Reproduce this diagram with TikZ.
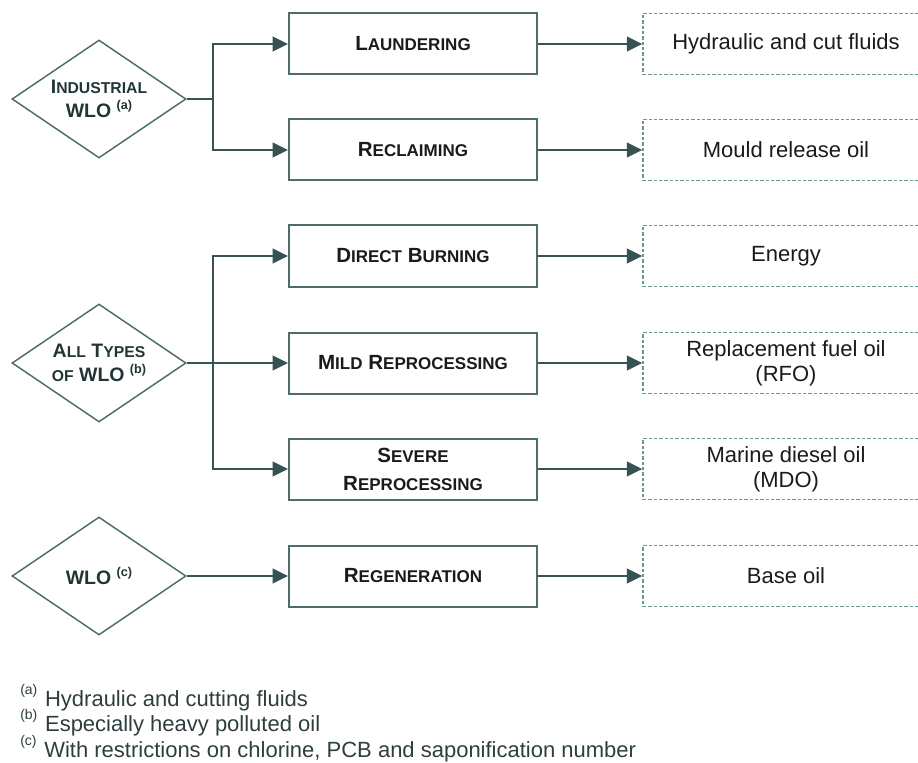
\documentclass[tikz,border=0pt]{standalone}
\usepackage{fontspec}
\setmainfont{Liberation Sans}
\usetikzlibrary{arrows.meta,shapes.geometric}
\definecolor{flowline}{HTML}{375252}
\definecolor{boxline}{HTML}{4E6C6C}
\definecolor{dashline}{HTML}{6A9696}
\definecolor{dtext}{HTML}{223535}
\definecolor{btext}{HTML}{1A1A1A}
\definecolor{ftext}{HTML}{2E3E3E}
\newcommand{\boxsc}[2]{#1{\fontsize{12.75}{21}\selectfont #2}}
\newcommand{\diasc}[2]{#1{\fontsize{11.8}{18}\selectfont #2}}
\newcommand{\diamark}[1]{\raisebox{6.2pt}{\fontsize{9.5}{9.5}\selectfont (#1)}}
\newcommand{\notemark}[1]{\raisebox{8.6pt}{\fontsize{10.5}{10.5}\selectfont (#1)}\hspace{0.35em}}

\begin{document}
\begin{tikzpicture}[x=0.75pt,y=-0.75pt,
	flow/.style={draw=flowline,line width=1.6pt},
	flowarrow/.style={flow,-{Triangle[length=11.5pt,width=11pt]}},
	stepbox/.style={draw=boxline,line width=1.5pt,minimum width=186pt,minimum height=45.75pt,inner sep=0pt,align=center,text=btext,font=\fontsize{15.4}{21}\selectfont\bfseries},
	source/.style={diamond,draw=boxline,line width=1.1pt,aspect=1.47,minimum width=130.5pt,minimum height=88.5pt,inner sep=0pt,align=center,text=dtext,font=\fontsize{14.6}{18}\selectfont\bfseries},
	product/.style={draw=dashline,line width=1.1pt,dash pattern=on 2.5pt off 1.5pt,minimum width=214.5pt,minimum height=45.75pt,inner sep=0pt,align=center,text=btext,font=\fontsize{16.5}{19}\selectfont},
	note/.style={anchor=base west,inner sep=0pt,text=ftext,font=\fontsize{16.5}{19}\selectfont}]
		%%%%% START %%%%%
		\clip (0,0) rectangle (918,763);
		
		% sources
		\node[source] (ind) at (99, 99) {\diasc{I}{NDUSTRIAL}\\WLO \diamark{a}};
		\node[source] (all) at (99, 363) {\diasc{A}{LL} \diasc{T}{YPES}\\{\fontsize{11.8}{18}\selectfont OF} WLO \diamark{b}};
		\node[source] (wlo) at (99, 576) {WLO \diamark{c}};
		
		% treatments
		\node[stepbox] (laund) at (413, 44) {\boxsc{L}{AUNDERING}};
		\node[stepbox] (recl) at (413, 150) {\boxsc{R}{ECLAIMING}};
		\node[stepbox] (direct) at (413, 256) {\boxsc{D}{IRECT} \boxsc{B}{URNING}};
		\node[stepbox] (mild) at (413, 363) {\boxsc{M}{ILD} \boxsc{R}{EPROCESSING}};
		\node[stepbox] (severe) at (413, 469) {\boxsc{S}{EVERE}\\\boxsc{R}{EPROCESSING}};
		\node[stepbox] (regen) at (413, 576) {\boxsc{R}{EGENERATION}};
		
		% products
		\node[product] (hyd) at (786, 44) {Hydraulic and cut fluids};
		\node[product] (mould) at (786, 150) {Mould release oil};
		\node[product] (energy) at (786, 256) {Energy};
		\node[product] (rfo) at (786, 363) {Replacement fuel oil\\(RFO)};
		\node[product] (mdo) at (786, 469) {Marine diesel oil\\(MDO)};
		\node[product] (base) at (786, 576) {Base oil};
		
		% branches
		\coordinate (j1) at (213, 99);
		\coordinate (j2) at (213, 363);
		
		\draw[flow] (ind.east) -- (j1);
		\draw[flowarrow] (j1) |- (laund.west);
		\draw[flowarrow] (j1) |- (recl.west);
		
		\draw[flowarrow] (all.east) -- (mild.west);
		\draw[flowarrow] (j2) |- (direct.west);
		\draw[flowarrow] (j2) |- (severe.west);
		
		\draw[flowarrow] (wlo.east) -- (regen.west);
		
		\draw[flowarrow] (laund.east) -- (hyd.west);
		\draw[flowarrow] (recl.east) -- (mould.west);
		\draw[flowarrow] (direct.east) -- (energy.west);
		\draw[flowarrow] (mild.east) -- (rfo.west);
		\draw[flowarrow] (severe.east) -- (mdo.west);
		\draw[flowarrow] (regen.east) -- (base.west);
		
		% notes
		\node[note] (na) at (20, 706) {\notemark{a}Hydraulic and cutting fluids};
		\node[note] (nb) at (20, 731) {\notemark{b}Especially heavy polluted oil};
		\node[note] (nc) at (20, 757) {\notemark{c}With restrictions on chlorine, PCB and saponification number};
		%%%%% END %%%%%
	\end{tikzpicture}
\end{document}
